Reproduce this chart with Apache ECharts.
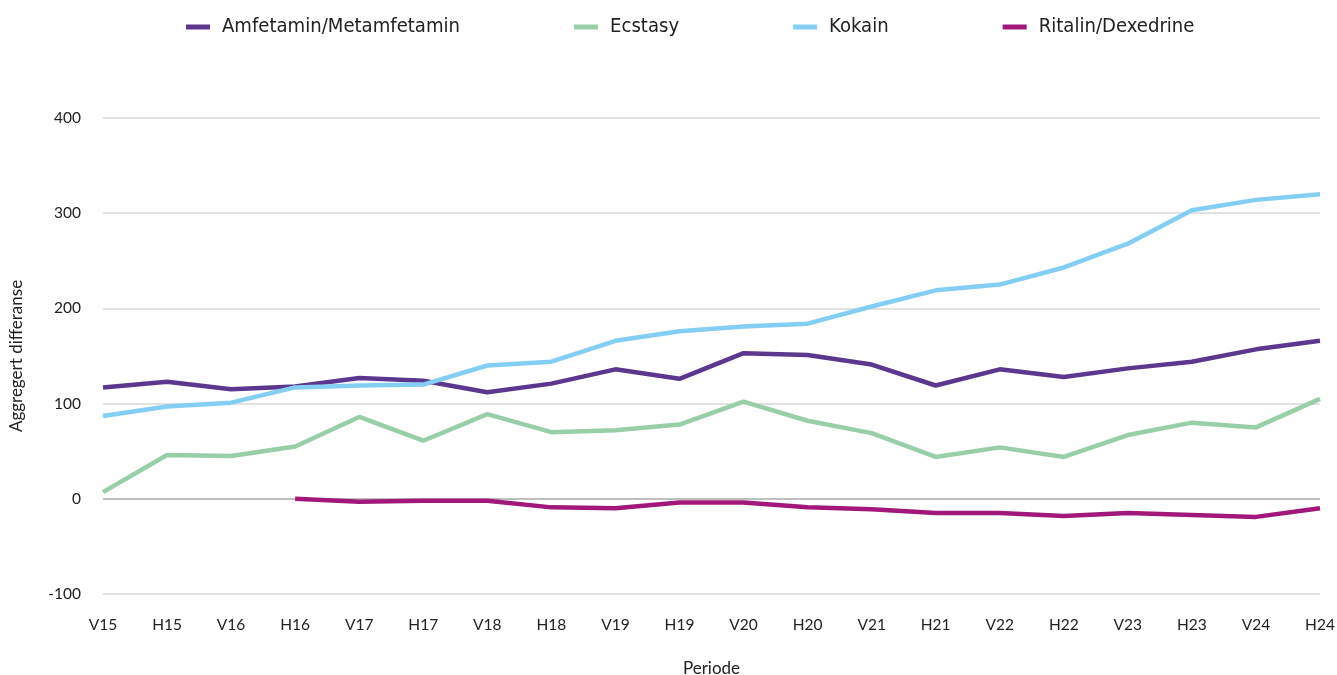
<!DOCTYPE html>
<html>
<head>
<meta charset="utf-8">
<script src="https://cdn.jsdelivr.net/npm/echarts@6/dist/echarts.min.js"></script>
<style>html,body{margin:0;padding:0;background:#fff;}#c{width:1337px;height:675px;}</style>
</head>
<body>
<div id="c"></div>
<script>
const categories = ['V15','H15','V16','H16','V17','H17','V18','H18','V19','H19','V20','H20','V21','H21','V22','H22','V23','H23','V24','H24'];
const amfetamin = [117,123,115,118,127,124,112,121,136,126,153,151,141,119,136,128,137,144,157,166];
const ecstasy = [7,46,45,55,86,61,89,70,72,78,102,82,69,44,54,44,67,80,75,105];
const kokain = [87,97,101,117,119,120,140,144,166,176,181,184,202,219,225,243,268,303,314,320];
const ritalin = [null,null,null,0,-3,-2,-2,-9,-10,-4,-4,-9,-11,-15,-15,-18,-15,-17,-19,-10];
const yTicks = [-100,0,100,200,300,400];

const chart = echarts.init(document.getElementById('c'));
const axisFont = 'Lato, "Open Sans", sans-serif';
function s(name, data, color) {
  return {name, type:'line', data, symbol:'none', lineStyle:{width:4.5, color}, itemStyle:{color}, connectNulls:false};
}
chart.setOption({
  animation:false,
  legend:{
    top:12, left:181, itemGap:114, itemWidth:24, itemHeight:5,
    icon:'rect',
    textStyle:{fontFamily:'"Liberation Sans Narrow", "DejaVu Sans Condensed", sans-serif', fontSize:20.1, color:'#222', padding:[0,0,0,7]},
    data:['Amfetamin/Metamfetamin','Ecstasy','Kokain','Ritalin/Dexedrine']
  },
  grid:{left:103, right:17, top:118, bottom:81, outerBoundsMode:'none', containLabel:false},
  xAxis:{
    type:'category', data:categories, boundaryGap:false,
    axisLine:{show:false}, axisTick:{show:false},
    axisLabel:{fontFamily:axisFont, fontSize:15.5, color:'#222', margin:23},
    name:'Periode', nameLocation:'middle', nameGap:66,
    nameTextStyle:{fontFamily:axisFont, fontSize:17, color:'#222'}
  },
  yAxis:{
    type:'value', min:yTicks[0], max:yTicks[yTicks.length-1], interval:100,
    axisLine:{show:false}, axisTick:{show:false},
    axisLabel:{fontFamily:axisFont, fontSize:15.5, color:'#222', margin:22},
    splitLine:{lineStyle:{color:'#d9d9d9', width:1.5}},
    name:'Aggregert differanse', nameLocation:'middle', nameGap:78, nameRotate:90,
    nameTextStyle:{fontFamily:axisFont, fontSize:17, color:'#222'}
  },
  series:[
    s('Amfetamin/Metamfetamin', amfetamin, '#5B378E'),
    s('Ecstasy', ecstasy, '#98CFA9'),
    s('Kokain', kokain, '#85CEF3'),
    Object.assign(s('Ritalin/Dexedrine', ritalin, '#A1187A'), {
      markLine:{silent:true, symbol:'none', label:{show:false}, lineStyle:{color:'#b3b3b3', width:1.5, type:'solid'}, data:[{yAxis:0}], z:1}
    })
  ]
});
</script>
</body>
</html>
